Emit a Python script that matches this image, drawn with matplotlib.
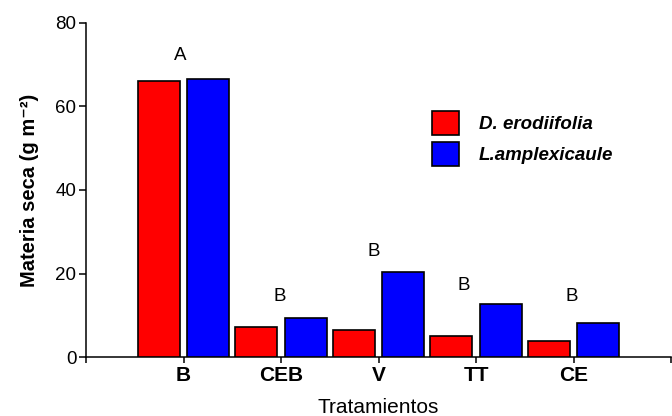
import matplotlib
matplotlib.use("Agg")
import matplotlib.pyplot as plt
import numpy as np

categories = ["B", "CEB", "V", "TT", "CE"]
d_erodiifolia = [66.1, 7.2, 6.5, 5.1, 3.8]
l_amplexicaule = [66.7, 9.3, 20.3, 12.6, 8.1]
letters = ["A", "B", "B", "B", "B"]
letter_y = [72.3, 14.6, 25.2, 17.2, 14.6]
letter_dx = [-0.03, -0.01, -0.05, -0.13, -0.02]

plt.rcParams['font.family'] = ['Liberation Sans', 'DejaVu Sans']

fig = plt.figure(figsize=(6.72, 4.16), dpi=100)
ax = fig.add_axes([86/672, 59/416, (671-86)/672, (357-23)/416])

x = np.arange(len(categories))
w = 0.43
off = 0.255
ax.bar(x - off, d_erodiifolia, w, color="#ff0000", edgecolor="black", linewidth=1.2,
       label="D. erodiifolia", zorder=3)
ax.bar(x + off, l_amplexicaule, w, color="#0000ff", edgecolor="black", linewidth=1.2,
       label="L.amplexicaule", zorder=3)

for xi, t, ly, dx in zip(x, letters, letter_y, letter_dx):
    ax.text(xi + dx, ly, t, ha="center", va="center", fontsize=13.5)

ax.set_xlim(-1, 5)
ax.set_ylim(0, 80)
ax.set_yticks([0, 20, 40, 60, 80])
ax.set_xticks(list(x) + [-1, 5])
ax.set_xticklabels(categories + ["", ""], fontweight="bold", fontsize=15)
ax.tick_params(axis="y", labelsize=13.5, width=1.1, length=5, pad=2)
ax.tick_params(axis="x", width=1.1, length=4.5, pad=2)
for s in ["top", "right"]:
    ax.spines[s].set_visible(False)
for s in ["left", "bottom"]:
    ax.spines[s].set_linewidth(1.1)

ax.set_ylabel("Materia seca (g m\u207b\u00b2)", fontweight="bold", fontsize=14.5, labelpad=12)
ax.set_xlabel("Tratamientos", fontsize=15, labelpad=9)

leg = ax.legend(loc="upper left", bbox_to_anchor=(432/672, 1 - 111/416),
                bbox_transform=fig.transFigure, frameon=False, borderpad=0, borderaxespad=0,
                prop={"style": "italic", "weight": "bold", "size": 13.5},
                handlelength=1.44, handleheight=1.62, handletextpad=1.07, labelspacing=0.34)

fig.savefig("out.png", dpi=100)
